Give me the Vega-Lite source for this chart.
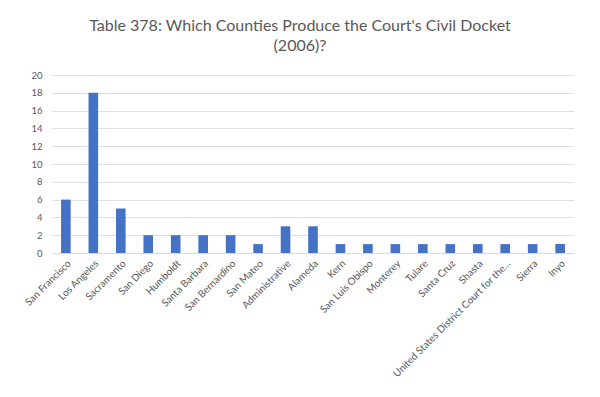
{
  "$schema": "https://vega.github.io/schema/vega-lite/v6.json",
  "autosize": {"type": "none"},
  "width": 522,
  "height": 178,
  "padding": {"left": 52, "top": 75, "right": 26, "bottom": 144},
  "background": "white",
  "title": {
    "text": ["Table 378: Which Counties Produce the Court's Civil Docket", "(2006)?"],
    "font": "Lato",
    "fontSize": 16,
    "fontWeight": "normal",
    "color": "#595959",
    "anchor": "middle",
    "dx": -13,
    "offset": 16,
    "lineHeight": 20
  },
  "data": {
    "values": [
      {"county": "San Francisco", "count": 6},
      {"county": "Los Angeles", "count": 18},
      {"county": "Sacramento", "count": 5},
      {"county": "San Diego", "count": 2},
      {"county": "Humboldt", "count": 2},
      {"county": "Santa Barbara", "count": 2},
      {"county": "San Bernardino", "count": 2},
      {"county": "San Mateo", "count": 1},
      {"county": "Administrative", "count": 3},
      {"county": "Alameda", "count": 3},
      {"county": "Kern", "count": 1},
      {"county": "San Luis Obispo", "count": 1},
      {"county": "Monterey", "count": 1},
      {"county": "Tulare", "count": 1},
      {"county": "Santa Cruz", "count": 1},
      {"county": "Shasta", "count": 1},
      {"county": "United States District Court for the...", "count": 1},
      {"county": "Sierra", "count": 1},
      {"county": "Inyo", "count": 1}
    ]
  },
  "mark": {"type": "bar", "color": "#4472C4"},
  "encoding": {
    "x": {
      "field": "county",
      "type": "nominal",
      "sort": null,
      "scale": {"paddingInner": 0.65, "paddingOuter": 0.33},
      "axis": {
        "title": null,
        "labelAngle": -45,
        "labelFont": "Lato",
        "labelFontSize": 10,
        "labelColor": "#595959",
        "labelLimit": 220,
        "ticks": false,
        "labelPadding": 5,
        "domainColor": "#d9d9d9"
      }
    },
    "y": {
      "field": "count",
      "type": "quantitative",
      "scale": {"domain": [0, 20]},
      "axis": {
        "title": null,
        "values": [0, 2, 4, 6, 8, 10, 12, 14, 16, 18, 20],
        "labelFont": "Lato",
        "labelFontSize": 9.5,
        "labelColor": "#595959",
        "ticks": false,
        "domain": false,
        "labelPadding": 10,
        "gridColor": "#e0e0e0"
      }
    }
  },
  "config": {"view": {"stroke": null}}
}
